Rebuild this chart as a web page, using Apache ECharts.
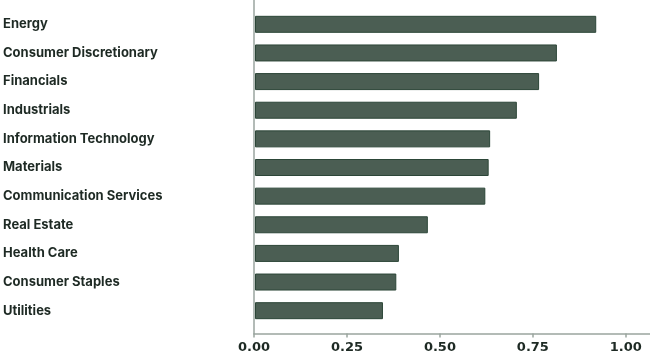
<!DOCTYPE html>
<html><head><meta charset="utf-8">
<script src="https://cdn.jsdelivr.net/npm/echarts@6/dist/echarts.min.js"></script>
<style>html,body{margin:0;padding:0;background:#fff}#c{width:650px;height:357px}</style>
</head><body><div id="c"></div>
<script>
const categories = ["Energy","Consumer Discretionary","Financials","Industrials","Information Technology","Materials","Communication Services","Real Estate","Health Care","Consumer Staples","Utilities"];
const values = [0.920,0.814,0.766,0.706,0.634,0.630,0.621,0.466,0.388,0.381,0.345];
const tickValues = [0,0.25,0.5,0.75,1];

const font = 'Inter, "Liberation Sans", sans-serif';
const chart = echarts.init(document.getElementById('c'));
chart.setOption({
  animation:false,
  grid:[
    {left:254,right:0,top:10,bottom:32,containLabel:false},
    {left:254,right:0,top:0,bottom:23.5,containLabel:false}
  ],
  xAxis:[
    {gridIndex:0,type:'value',min:0,max:1.065,show:false},
    {gridIndex:1,type:'value',min:0,max:1.065,
     axisLine:{show:true,lineStyle:{color:'#9aa59f',width:1.5}},
     axisTick:{show:true,customValues:tickValues,length:4,lineStyle:{color:'#9aa59f',width:1.5}},
     splitLine:{show:false},
     axisLabel:{customValues:tickValues,color:'#1e2a24',fontWeight:'bold',fontSize:13,fontFamily:'"DejaVu Sans", sans-serif',margin:8,
       formatter:v=>v.toFixed(2)}}
  ],
  yAxis:[
    {gridIndex:0,type:'category',data:categories,inverse:true,
     axisLine:{show:false},axisTick:{show:false},
     axisLabel:{align:'left',margin:252,color:'#1e2a24',fontWeight:'bold',fontSize:13,fontFamily:font}},
    {gridIndex:1,type:'value',min:0,max:1,
     axisLine:{show:true,lineStyle:{color:'#9aa59f',width:1.5}},
     axisTick:{show:false},axisLabel:{show:false},splitLine:{show:false}}
  ],
  series:[{
    type:'bar',xAxisIndex:0,yAxisIndex:0,data:values,barWidth:17,
    itemStyle:{color:'#4b5e53',borderColor:'#2c4638',borderWidth:1}
  }]
});
</script></body></html>
